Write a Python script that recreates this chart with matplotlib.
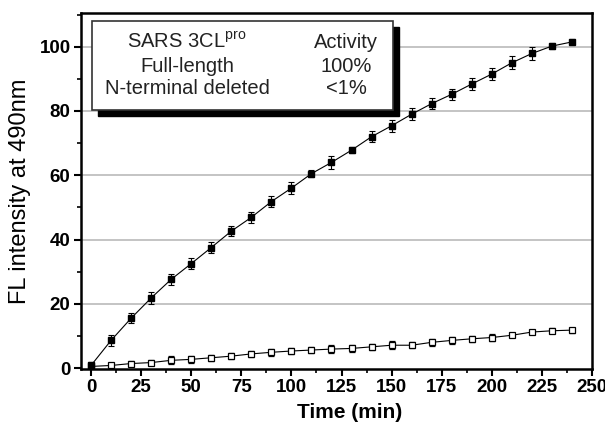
import numpy as np
import matplotlib.pyplot as plt
from matplotlib.patches import Rectangle
from matplotlib.ticker import MultipleLocator

plt.rcParams['font.family'] = ['Liberation Sans', 'DejaVu Sans']

time_min = [0, 10, 20, 30, 40, 50, 60, 70, 80, 90, 100, 110, 120,
            130, 140, 150, 160, 170, 180, 190, 200, 210, 220, 230, 240]
full_length = [0.8, 8.6, 15.5, 21.8, 27.6, 32.5, 37.5, 42.6, 46.9, 51.8, 56.0, 60.5, 64.0,
               67.8, 72.0, 75.4, 79.0, 82.3, 85.2, 88.4, 91.5, 95.0, 97.9, 100.2, 101.5]
full_err = [1.0, 1.8, 1.6, 1.8, 1.8, 1.6, 1.8, 1.6, 1.8, 1.8, 1.8, 1.0, 2.0,
            1.0, 1.8, 1.8, 1.8, 1.8, 1.8, 1.8, 2.0, 2.0, 2.0, 1.0, 0.8]
n_deleted = [0.5, 0.8, 1.4, 1.7, 2.4, 2.7, 3.2, 3.7, 4.4, 4.9, 5.3, 5.6, 5.9,
             6.1, 6.6, 7.1, 7.1, 8.0, 8.6, 9.1, 9.5, 10.2, 11.2, 11.6, 11.8]
del_err = [1.0, 0.6, 0.8, 0.8, 1.2, 1.0, 1.0, 1.0, 1.0, 1.0, 1.0, 1.0, 1.2,
           1.0, 1.0, 1.2, 1.0, 1.0, 1.0, 1.0, 1.0, 0.6, 0.6, 0.8, 0.8]

W, H = 605, 426
fig = plt.figure(figsize=(W / 100, H / 100), dpi=100)
ax = fig.add_axes([81 / W, 1 - 369 / H, 511 / W, 356 / H])

for y in [20, 40, 60, 80, 100]:
    ax.axhline(y, color='#b4b4b4', lw=1.1, zorder=0)

ax.errorbar(time_min, n_deleted, yerr=del_err, color='black', lw=0.8,
            marker='s', ms=4.5, mfc='white', mec='black', mew=0.9,
            ecolor='black', elinewidth=0.8, capsize=2.5, capthick=0.8, zorder=3)
ax.errorbar(time_min, full_length, yerr=full_err, color='black', lw=0.8,
            marker='s', ms=4.5, mfc='black', mec='black',
            ecolor='black', elinewidth=0.8, capsize=2.5, capthick=0.8, zorder=3)

ax.set_xlim(-5, 250)
ax.set_ylim(-0.3, 110.5)
ax.xaxis.set_major_locator(MultipleLocator(25))
ax.xaxis.set_minor_locator(MultipleLocator(12.5))
ax.yaxis.set_major_locator(MultipleLocator(20))
ax.yaxis.set_minor_locator(MultipleLocator(10))
ax.tick_params(which='major', direction='out', length=5, width=1.5, labelsize=13.5, pad=2.5)
ax.tick_params(which='minor', direction='out', length=3, width=1.2)
for lab in ax.get_xticklabels() + ax.get_yticklabels():
    lab.set_fontweight('bold')
for s in ax.spines.values():
    s.set_linewidth(1.8)

ax.set_xlabel('Time (min)', fontsize=15, fontweight='bold')
ax.xaxis.set_label_coords(0.525, -0.095)
ax.set_ylabel('FL intensity at 490nm', fontsize=17, labelpad=6)

# legend-like text box with shadow
def px(x, y):
    return x / W, 1 - y / H

x0, y0 = px(98, 116)
fig.patches.append(Rectangle((x0, y0), 301 / W, 89 / H, transform=fig.transFigure,
                             facecolor='black', edgecolor='black', zorder=5))
x0, y0 = px(92, 110)
fig.patches.append(Rectangle((x0, y0), 301 / W, 89 / H, transform=fig.transFigure,
                             facecolor='white', edgecolor='#333333', lw=1.2, zorder=6))

rows = [('SARS 3CL$^{\\mathregular{pro}}$', 'Activity'),
        ('Full-length', '100%'),
        ('N-terminal deleted', '<1%')]
for (c1, c2), yy in zip(rows, [42, 66, 88]):
    fig.text(*px(187, yy), c1, ha='center', va='center', fontsize=14.5, zorder=7, color='#222222')
    fig.text(*px(346, yy), c2, ha='center', va='center', fontsize=14.5, zorder=7, color='#222222')

fig.savefig('out.png', dpi=100)
